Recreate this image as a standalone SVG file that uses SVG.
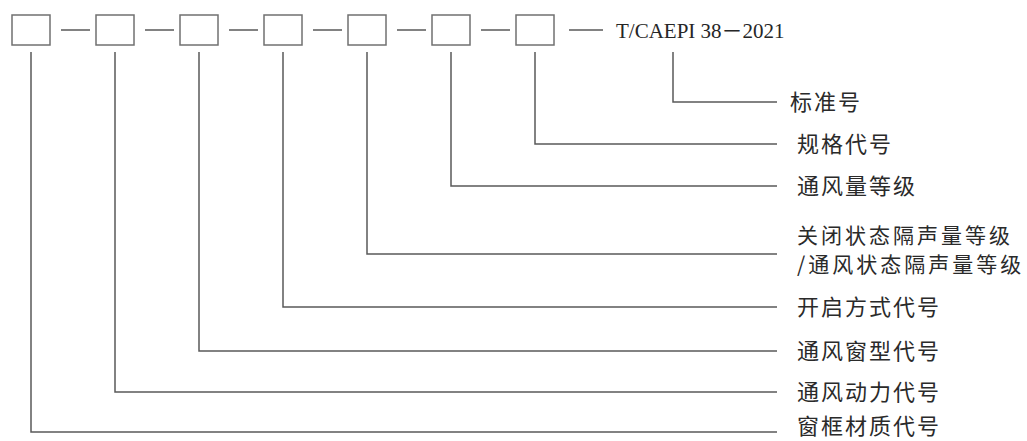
<svg xmlns="http://www.w3.org/2000/svg" width="1027" height="441" viewBox="0 0 1027 441">
<style>
.box{fill:#fff;stroke:#707070;stroke-width:1.5}
.ln{fill:none;stroke:#5a5a5a;stroke-width:1.5}
.lbl{font-family:"Noto Sans CJK SC","Noto Sans",sans-serif;font-size:22px;letter-spacing:2px;fill:#2a2a2a}
.lbl2{font-family:"Noto Sans CJK SC","Noto Sans",sans-serif;font-size:21px;letter-spacing:3px;fill:#2a2a2a}
.code{font-family:"Liberation Serif","Noto Sans CJK SC",serif;font-size:21px;fill:#262626}
</style>
<rect width="1027" height="441" fill="#fff"/>
<g id="connectors">
<path class="ln" d="M61 30H90M145 30H174M229 30H258M313 30H342M397 30H426M481 30H510M569 30H603"/>
<path class="ln" d="M673 52V102H777"/>
<path class="ln" d="M535 52V144H777"/>
<path class="ln" d="M451 52V186H777"/>
<path class="ln" d="M367 52V254H777"/>
<path class="ln" d="M283 52V307H777"/>
<path class="ln" d="M199 52V351H777"/>
<path class="ln" d="M115 52V392H777"/>
<path class="ln" d="M31 52V432H777"/>
</g>
<g id="box1"><rect class="box" x="12" y="15" width="38" height="30"/></g>
<g id="box2"><rect class="box" x="96" y="15" width="38" height="30"/></g>
<g id="box3"><rect class="box" x="180" y="15" width="38" height="30"/></g>
<g id="box4"><rect class="box" x="264" y="15" width="38" height="30"/></g>
<g id="box5"><rect class="box" x="348" y="15" width="38" height="30"/></g>
<g id="box6"><rect class="box" x="432" y="15" width="38" height="30"/></g>
<g id="box7"><rect class="box" x="516" y="15" width="38" height="30"/></g>
<g id="standard"><text class="code" x="616" y="38">T/CAEPI 38－2021</text></g>
<g id="label-std"><text class="lbl" x="790" y="110">标准号</text></g>
<g id="label-spec"><text class="lbl" x="797" y="152">规格代号</text></g>
<g id="label-vent"><text class="lbl" x="797" y="194">通风量等级</text></g>
<g id="label-sound"><text class="lbl2" x="797" y="243">关闭状态隔声量等级</text><text class="lbl2" x="797" y="272">/通风状态隔声量等级</text></g>
<g id="label-open"><text class="lbl" x="797" y="315">开启方式代号</text></g>
<g id="label-type"><text class="lbl" x="797" y="359">通风窗型代号</text></g>
<g id="label-power"><text class="lbl" x="797" y="400">通风动力代号</text></g>
<g id="label-frame"><text class="lbl" x="797" y="434">窗框材质代号</text></g>
</svg>
